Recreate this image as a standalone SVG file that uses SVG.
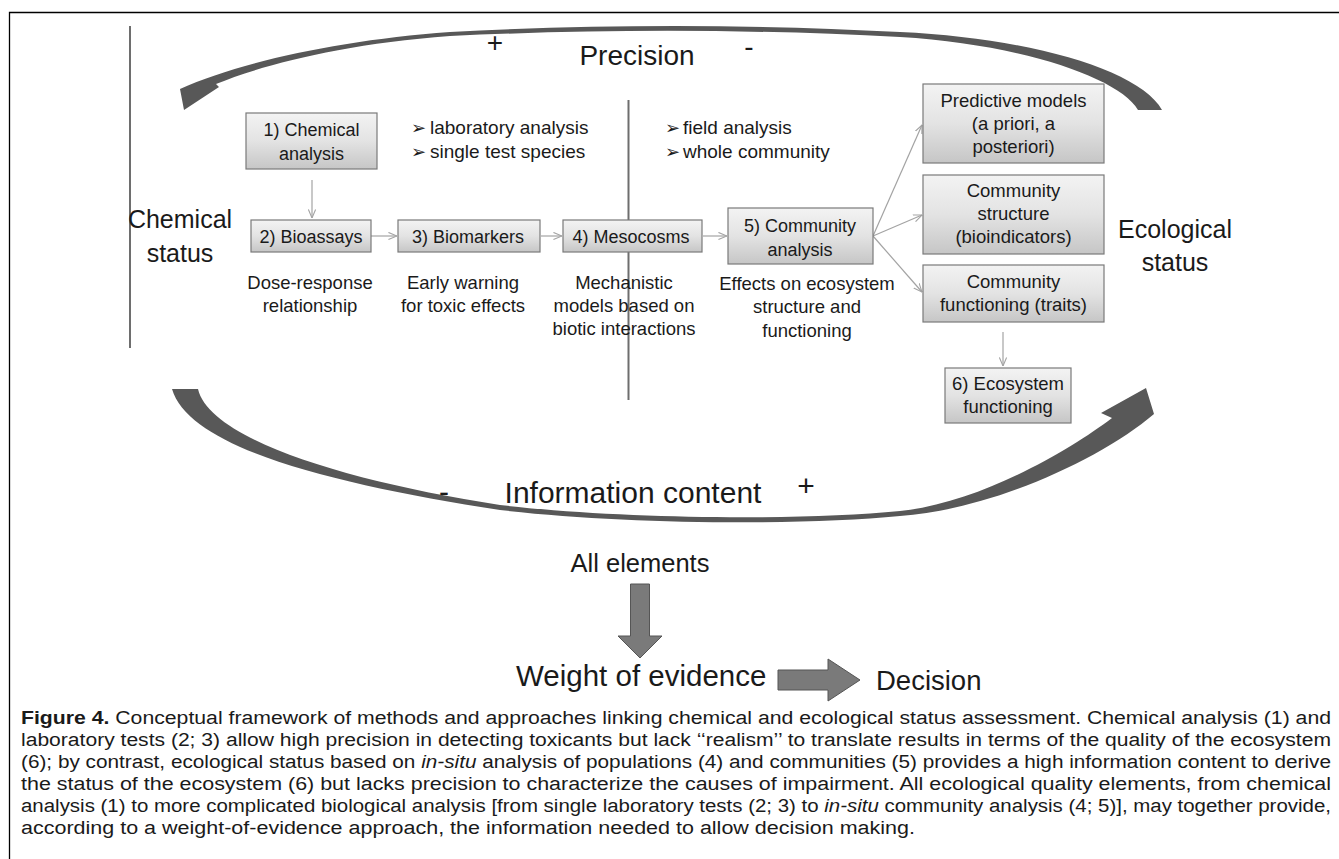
<svg xmlns="http://www.w3.org/2000/svg" width="1339" height="859" viewBox="0 0 1339 859">
<defs>
<style>
.t{font-family:"Liberation Sans",Arial,sans-serif;fill:#1a1a1a}
.bx{font-size:18px;text-anchor:middle}
.bx2{font-size:18.5px;text-anchor:middle}
.lb{font-size:18.5px;text-anchor:middle}
.bl{font-size:19px}
.bu{font-family:"DejaVu Sans",sans-serif;font-size:18px}
.big{font-size:25px;text-anchor:middle}
.cap{font-family:"Liberation Sans",Arial,sans-serif;font-size:18px;fill:#1a1a1a}
.node rect{fill:url(#g);stroke:#7a7a7a;stroke-width:1.2}
.con{stroke:#a3a3a3;stroke-width:1.2;fill:none;marker-end:url(#ah)}
.arc{fill:#585858}
.blk{fill:#7a7a7a;stroke:#555;stroke-width:1}
</style>
<linearGradient id="g" x1="0" y1="0" x2="0" y2="1">
<stop offset="0" stop-color="#f3f3f3"/>
<stop offset="0.5" stop-color="#e3e3e3"/>
<stop offset="1" stop-color="#c6c6c6"/>
</linearGradient>
<marker id="ah" viewBox="0 0 10 10" refX="9.5" refY="5" markerWidth="9" markerHeight="9" orient="auto" markerUnits="userSpaceOnUse">
<path d="M0,1 L9.5,5 L0,9" fill="none" stroke="#a3a3a3" stroke-width="1.2"/>
</marker>
</defs>
<rect width="1339" height="859" fill="#ffffff"/>
<g id="frame" stroke="#000" stroke-width="1.3" fill="none">
<path d="M9.5,859 V12.5 H1339"/>
</g>
<g id="arc-precision">
<path class="arc" d="M180,89 C240,62 340,40 450,32 C600,24 750,24 900,32 C1030,38 1140,70 1162,110 L1138,110 C1120,78 1020,44 900,37 C750,29 600,29 450,36 C340,44 260,66 216,84 L219,87 L184,110 Z"/>
</g>
<g id="arc-information">
<path class="arc" d="M1154,414 C1100,460 990,510 900,516 C800,526 620,524 500,510 C340,485 190,450 172,389 L198,389 C210,440 350,482 500,505 C620,519 800,521 900,511 C980,503 1070,450 1112,418 L1101,413 L1146,388 Z"/>
</g>
<g id="axes" stroke="#6e6e6e" stroke-width="2">
<line x1="130" y1="26" x2="130" y2="348"/>
<line x1="628.5" y1="100" x2="628.5" y2="400"/>
</g>
<g id="connectors">
<line class="con" x1="312" y1="180" x2="312" y2="218"/>
<line class="con" x1="371" y1="236" x2="397" y2="236"/>
<line class="con" x1="541" y1="236" x2="562" y2="236"/>
<line class="con" x1="703" y1="236" x2="727" y2="236"/>
<line class="con" x1="873" y1="236" x2="922" y2="125"/>
<line class="con" x1="873" y1="236" x2="922" y2="215"/>
<line class="con" x1="873" y1="236" x2="922" y2="292"/>
<line class="con" x1="1003" y1="332" x2="1003" y2="366"/>
</g>
<g id="node-chemical-analysis" class="node">
<rect x="246" y="113" width="131" height="56"/>
<text class="t bx"><tspan x="311.5" y="136">1) Chemical</tspan><tspan x="311.5" y="160">analysis</tspan></text>
</g>
<g id="node-bioassays" class="node">
<rect x="251" y="220" width="120" height="32"/>
<text class="t bx" x="311" y="243">2) Bioassays</text>
</g>
<g id="node-biomarkers" class="node">
<rect x="398" y="220" width="142" height="32"/>
<text class="t bx" x="468" y="243">3) Biomarkers</text>
</g>
<g id="node-mesocosms" class="node">
<rect x="563" y="220" width="139" height="32"/>
<text class="t bx" x="631" y="243">4) Mesocosms</text>
</g>
<g id="node-community-analysis" class="node">
<rect x="728" y="208" width="145" height="56"/>
<text class="t bx"><tspan x="800" y="232">5) Community</tspan><tspan x="800" y="256">analysis</tspan></text>
</g>
<g id="node-predictive" class="node">
<rect x="923" y="84" width="181" height="79"/>
<text class="t bx2"><tspan x="1013.5" y="107">Predictive models</tspan><tspan x="1013.5" y="130">(a priori, a</tspan><tspan x="1013.5" y="153">posteriori)</tspan></text>
</g>
<g id="node-structure" class="node">
<rect x="923" y="175" width="181" height="79"/>
<text class="t bx2"><tspan x="1013.5" y="197">Community</tspan><tspan x="1013.5" y="220">structure</tspan><tspan x="1013.5" y="243">(bioindicators)</tspan></text>
</g>
<g id="node-functioning" class="node">
<rect x="923" y="265" width="181" height="57"/>
<text class="t bx2"><tspan x="1013.5" y="288">Community</tspan><tspan x="1013.5" y="311">functioning (traits)</tspan></text>
</g>
<g id="node-ecosystem" class="node">
<rect x="945" y="368" width="126" height="55"/>
<text class="t bx2"><tspan x="1008" y="390">6) Ecosystem</tspan><tspan x="1008" y="413">functioning</tspan></text>
</g>
<g id="labels">
<text class="t" style="font-size:28px" x="495" y="52" text-anchor="middle">+</text>
<text class="t" style="font-size:28px" x="637" y="65" text-anchor="middle">Precision</text>
<text class="t" style="font-size:28px" x="749" y="56" text-anchor="middle">-</text>
<text class="t bl"><tspan class="bu" x="411" y="134">➢</tspan><tspan x="430" y="134">laboratory analysis</tspan><tspan class="bu" x="411" y="158">➢</tspan><tspan x="430" y="158">single test species</tspan></text>
<text class="t bl"><tspan class="bu" x="665" y="134">➢</tspan><tspan x="683" y="134">field analysis</tspan><tspan class="bu" x="665" y="158">➢</tspan><tspan x="683" y="158">whole community</tspan></text>
<text class="t big"><tspan x="180" y="228">Chemical</tspan><tspan x="180" y="262">status</tspan></text>
<text class="t big"><tspan x="1175" y="238">Ecological</tspan><tspan x="1175" y="271">status</tspan></text>
<text class="t lb"><tspan x="310" y="289">Dose-response</tspan><tspan x="310" y="312">relationship</tspan></text>
<text class="t lb"><tspan x="463" y="289">Early warning</tspan><tspan x="463" y="312">for toxic effects</tspan></text>
<text class="t lb"><tspan x="624" y="289">Mechanistic</tspan><tspan x="624" y="312">models based on</tspan><tspan x="624" y="335">biotic interactions</tspan></text>
<text class="t lb"><tspan x="807" y="290">Effects on ecosystem</tspan><tspan x="807" y="313">structure and</tspan><tspan x="807" y="337">functioning</tspan></text>
<text class="t" style="font-size:30px" x="444" y="502" text-anchor="middle">-</text>
<text class="t" style="font-size:30px" x="633" y="503" text-anchor="middle">Information content</text>
<text class="t" style="font-size:30px" x="806" y="496" text-anchor="middle">+</text>
</g>
<g id="node-all-elements">
<text class="t" style="font-size:25.5px" x="640" y="572" text-anchor="middle">All elements</text>
</g>
<g id="arrow-down">
<path class="blk" d="M630.5,584 H649.5 V636 H662 L640,658 L618,636 H630.5 Z"/>
</g>
<g id="node-weight">
<text class="t" style="font-size:29.5px" x="516" y="686">Weight of evidence</text>
</g>
<g id="arrow-right">
<path class="blk" d="M778,670 H828 V659 L860,680 L828,701 V690 H778 Z"/>
</g>
<g id="node-decision">
<text class="t" style="font-size:27.5px" x="876" y="690">Decision</text>
</g>
<g id="caption">
<text class="cap" x="21" y="724" textLength="1310" lengthAdjust="spacingAndGlyphs"><tspan font-weight="bold">Figure 4.</tspan> Conceptual framework of methods and approaches linking chemical and ecological status assessment. Chemical analysis (1) and</text>
<text class="cap" x="21" y="746" textLength="1310" lengthAdjust="spacingAndGlyphs">laboratory tests (2; 3) allow high precision in detecting toxicants but lack ‘‘realism’’ to translate results in terms of the quality of the ecosystem</text>
<text class="cap" x="21" y="768" textLength="1310" lengthAdjust="spacingAndGlyphs">(6); by contrast, ecological status based on <tspan font-style="italic">in-situ</tspan> analysis of populations (4) and communities (5) provides a high information content to derive</text>
<text class="cap" x="21" y="790" textLength="1310" lengthAdjust="spacingAndGlyphs">the status of the ecosystem (6) but lacks precision to characterize the causes of impairment. All ecological quality elements, from chemical</text>
<text class="cap" x="21" y="812" textLength="1310" lengthAdjust="spacingAndGlyphs">analysis (1) to more complicated biological analysis [from single laboratory tests (2; 3) to <tspan font-style="italic">in-situ</tspan> community analysis (4; 5)], may together provide,</text>
<text class="cap" x="21" y="834" textLength="894" lengthAdjust="spacingAndGlyphs">according to a weight-of-evidence approach, the information needed to allow decision making.</text>
</g>
</svg>
